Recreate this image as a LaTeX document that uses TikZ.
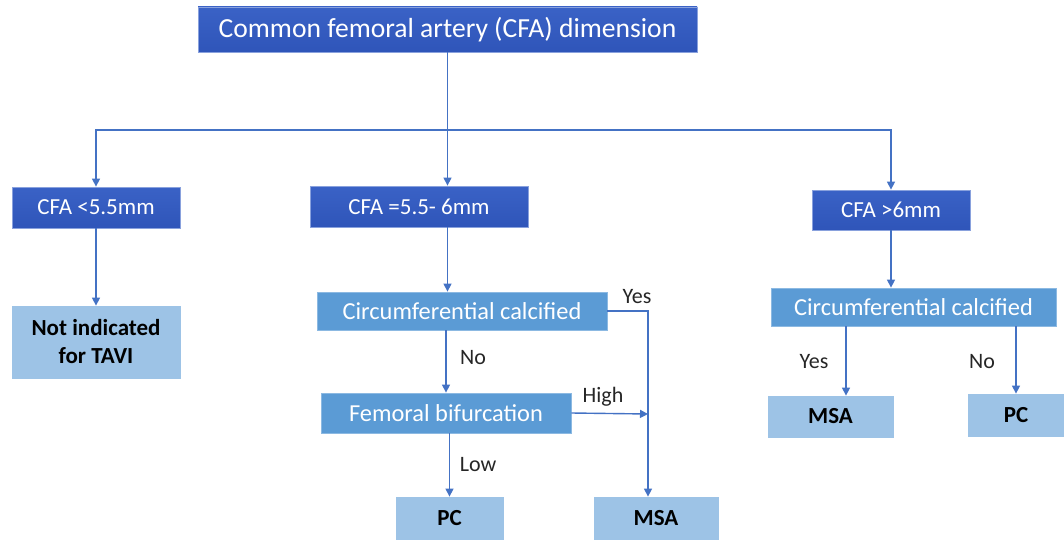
\documentclass[tikz,border=0pt]{standalone}
\usepackage{fontspec}
\setmainfont{Carlito}
\usepackage{xcolor}
\usetikzlibrary{arrows.meta,positioning,calc}
\definecolor{darkbox}{HTML}{3A62C6}
\definecolor{darkboxb}{HTML}{2F55B9}
\definecolor{midbox}{HTML}{5B9BD5}
\definecolor{lightbox}{HTML}{9DC3E6}
\definecolor{linkblue}{HTML}{4472C4}

\begin{document}
\begin{tikzpicture}[x=0.5pt, y=-0.5pt,
        dark/.style={draw=darkbox!60!white, line width=0.4pt, top color=darkbox, bottom color=darkboxb, text=white, inner sep=0pt, font=\fontsize{11.5}{13}\selectfont},
        mid/.style={draw=midbox!70!white, line width=0.4pt, fill=midbox, text=white, inner sep=0pt, font=\fontsize{12.2}{14}\selectfont},
        result/.style={draw=midbox!60!white, line width=0.4pt, fill=lightbox, text=black, inner sep=0pt, align=center, font=\fontsize{11.5}{14}\selectfont\bfseries},
        lbl/.style={text=black!85, inner sep=0pt, font=\fontsize{11}{13}\selectfont},
        arrow/.style={-{Triangle[width=4pt,length=4pt]}, draw=linkblue, line width=0.7pt}
    ]
        \useasboundingbox (0,0) rectangle (1064,540);

        % Dimension
        \node[dark, minimum width=249.5pt, minimum height=22.5pt, font=\fontsize{13.8}{16}\selectfont] (top) at (447.5,29.5) {Common femoral artery (CFA) dimension};

        % Groups
        \node[dark, minimum width=84pt, minimum height=20.5pt] (small) at (96,207.5) {CFA <5.5mm};
        \node[dark, minimum width=109pt, minimum height=20.5pt] (medium) at (419,206.5) {CFA =5.5- 6mm};
        \node[dark, minimum width=79pt, minimum height=20pt] (large) at (891,210) {CFA >6mm};

        % Decisions
        \node[result, minimum width=84pt, minimum height=36pt] (notavi) at (96,342) {Not indicated\\for TAVI};
        \node[mid, minimum width=145pt, minimum height=19pt] (circmid) at (462,311) {Circumferential calcified};
        \node[mid, minimum width=125pt, minimum height=20pt] (bif) at (446,413) {Femoral bifurcation};
        \node[mid, minimum width=142.5pt, minimum height=19pt] (circlarge) at (913.5,307) {Circumferential calcified};

        % Results
        \node[result, minimum width=53.5pt, minimum height=21.5pt] (pcmid) at (449.5,518.5) {PC};
        \node[result, minimum width=62pt, minimum height=21.5pt] (msamid) at (656,518.5) {MSA};
        \node[result, minimum width=62.5pt, minimum height=20.5pt] (msalarge) at (830.5,416.5) {MSA};
        \node[result, minimum width=48pt, minimum height=21pt] (pclarge) at (1016,415) {PC};

        \coordinate (split) at (447.5,130);
        \coordinate (join) at (648,414);
        \coordinate (yeslarge) at (846,0);

        % Connectors
        \draw[draw=linkblue, line width=0.7pt] (top.south) -- (split);
        \draw[arrow] (split) -| (small.north);
        \draw[arrow] (split) -| (large.north);
        \draw[arrow] (split) -- (split |- medium.north);

        \draw[arrow] (small) -- (notavi);
        \draw[arrow] (medium.south -| top) -- (circmid.north -| top);
        \draw[arrow] (circmid.south -| bif) -- (bif.north);
        \draw[arrow] (bif.south -| pcmid) -- (pcmid.north);
        \draw[arrow] (circmid.east) -| (join |- msamid.north);
        \draw[arrow] (bif.east) -- (join);

        \draw[arrow] (large) -- (circlarge.north -| large);
        \draw[arrow] (circlarge.south -| yeslarge) -- (msalarge.north -| yeslarge);
        \draw[arrow] (circlarge.south -| pclarge) -- (pclarge.north);

        % Labels
        \node[lbl] (yesmid) at (637,297) {Yes};
        \node[lbl] (nomid) at (473,358) {No};
        \node[lbl] (high) at (603,397) {High};
        \node[lbl] (low) at (478,465) {Low};
        \node[lbl] (yesl) at (814,362) {Yes};
        \node[lbl] (nol) at (982,362) {No};
    \end{tikzpicture}
\end{document}
